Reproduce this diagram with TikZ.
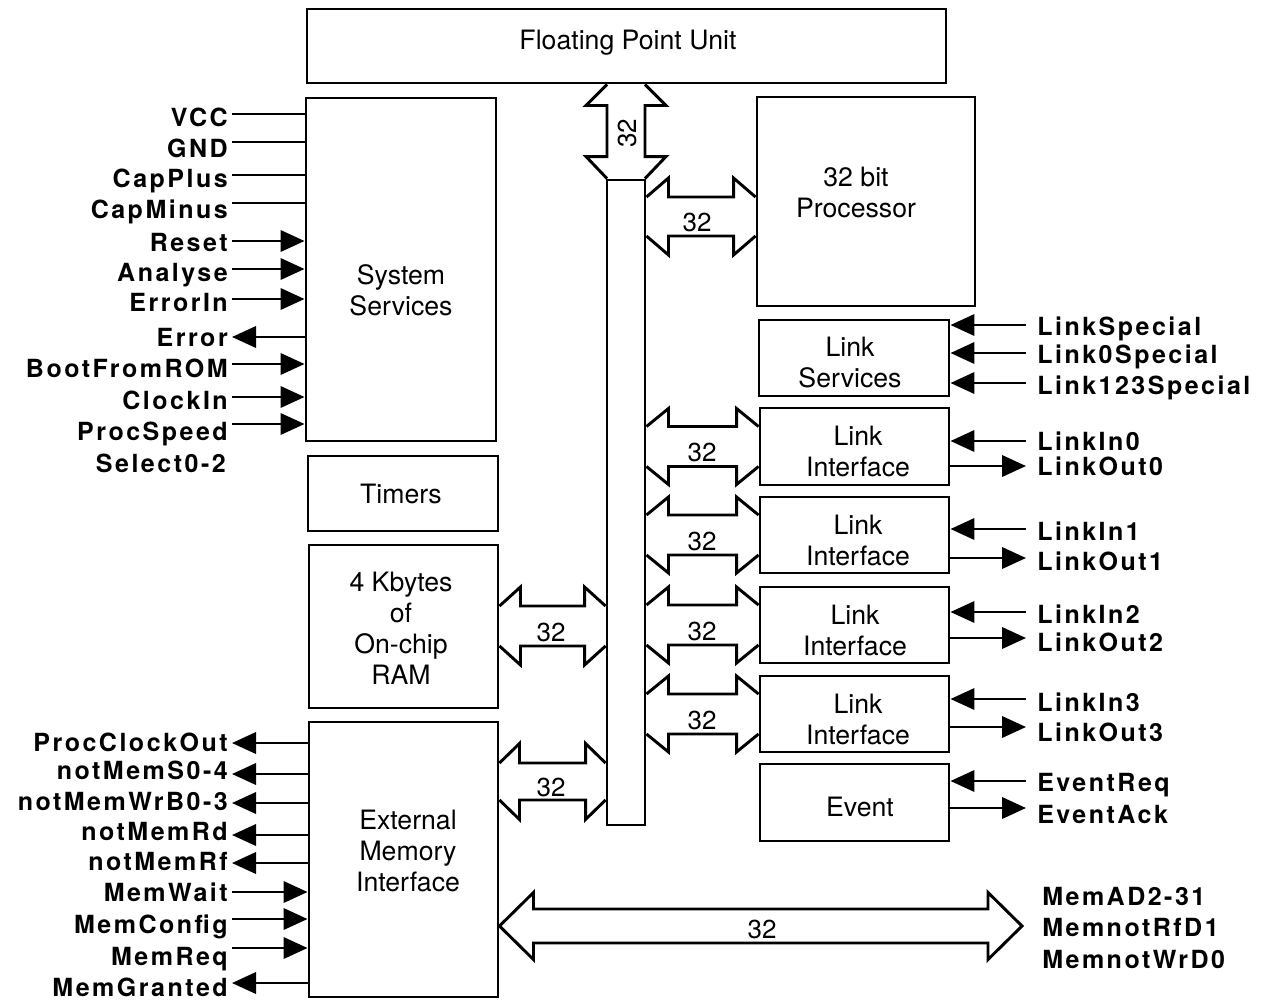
\documentclass[tikz,border=0pt]{standalone}
\usepackage{fontspec}
\setmainfont{TeX Gyre Heros}
\newfontfamily\pinfont{TeX Gyre Heros}[LetterSpace=10]
\usetikzlibrary{arrows.meta,calc,fit}
\tikzset{
  blk/.style={draw, line width=2.2pt, inner sep=0pt},
  boxtext/.style={font=\fontsize{20}{23.25}\selectfont, align=center, inner sep=0pt},
  pinlbl/.style={font=\pinfont\bfseries\fontsize{18.75}{20}\selectfont, inner sep=0pt},
  pinln/.style={line width=2pt},
  tipend/.style={pinln, -{Triangle[length=18pt,width=16pt]}},
  tipstart/.style={pinln, {Triangle[length=18pt,width=16pt]}-},
  busline/.style={line width=2.2pt, line join=miter},
  numlbl/.style={font=\fontsize{19.5}{22}\selectfont, inner sep=0pt},
}
% left pin: id, text, label y, line y, style, box
\newcommand\lpin[6]{%
  \node[pinlbl, anchor=base east] (n#1) at (228,#3+8.5) {#2};
  \coordinate (c#1) at (232,#4);
  \draw[#5] (c#1) -- (c#1 -| #6.west);}
% right pin: id, text, label y, line y, style, box
\newcommand\rpin[6]{%
  \node[pinlbl, anchor=base west] (n#1) at (1037,#3+8.5) {#2};
  \coordinate (c#1) at (1026,#4);
  \draw[#5] (#6.east |- c#1) -- (c#1);}
% horizontal bus arrow: left node, right node, centre y, shaft half, barb half, head length, label x
\newcommand\hbus[7]{%
  \coordinate (A) at (#1.east |- 0,#3);
  \coordinate (B) at (#2.west |- 0,#3);
  \draw[busline] ($(A)+(0,-#4)$) -- ($(A)+(#6,-#5)$) -- ($(A)+(#6,-#4)$) -- ($(B)+(-#6,-#4)$) -- ($(B)+(-#6,-#5)$) -- ($(B)+(0,-#4)$);
  \draw[busline] ($(A)+(0,#4)$) -- ($(A)+(#6,#5)$) -- ($(A)+(#6,#4)$) -- ($(B)+(-#6,#4)$) -- ($(B)+(-#6,#5)$) -- ($(B)+(0,#4)$);
  \node[numlbl] at (#7,#3+6) {32};}
\begin{document}
\begin{tikzpicture}[x=0.75pt,y=-0.75pt]
\useasboundingbox (0,0) rectangle (1266,1003);

% blocks
\node[blk, fit={(307,9) (946,83)}] (fpu) {};
\node[blk, fit={(306,98) (496,441)}] (sys) {};
\node[blk, fit={(308,456) (498,531)}] (tim) {};
\node[blk, fit={(309,545) (498,708)}] (ram) {};
\node[blk, fit={(309,722) (498,997)}] (emi) {};
\node[blk, fit={(607,180) (645,825)}] (bus) {};
\node[blk, fit={(757,97) (975,306)}] (proc) {};
\node[blk, fit={(759,320) (949,396)}] (lserv) {};
\node[blk, fit={(760,408) (949,485)}] (li0) {};
\node[blk, fit={(760,497) (949,573)}] (li1) {};
\node[blk, fit={(760,587) (949,663)}] (li2) {};
\node[blk, fit={(760,676) (949,752)}] (li3) {};
\node[blk, fit={(760,764) (949,841)}] (event) {};

% block texts
\node[boxtext] (tfpu) at (628,43) {Floating Point Unit};
\node[boxtext] (tsys) at (401,290) {System\\Services};
\node[boxtext] (ttim) at (401,494) {Timers};
\node[boxtext] (tram) at (401,628.5) {4 Kbytes\\of\\On-chip\\RAM};
\node[boxtext] (temi) at (408,851) {External\\Memory\\Interface};
\node[boxtext] (tproc) at (856,192.5) {32 bit\\Processor};
\node[boxtext] (tlserv) at (850,362.5) {Link\\Services};
\node[boxtext] (tli0) at (858,451.5) {Link\\Interface};
\node[boxtext] (tli1) at (858,540.5) {Link\\Interface};
\node[boxtext] (tli2) at (855,630) {Link\\Interface};
\node[boxtext] (tli3) at (858,719) {Link\\Interface};
\node[boxtext] (tevent) at (860,807) {Event};

% vertical bus arrow to the FPU
\coordinate (T) at (fpu.south -| bus.north);
\coordinate (U) at (bus.north);
\draw[busline] ($(T)+(-19,0)$) -- ($(T)+(-40,21)$) -- ($(T)+(-19,21)$) -- ($(U)+(-19,-22)$) -- ($(U)+(-40,-22)$) -- ($(U)+(-19,0)$);
\draw[busline] ($(T)+(19,0)$) -- ($(T)+(40,21)$) -- ($(T)+(19,21)$) -- ($(U)+(19,-22)$) -- ($(U)+(40,-22)$) -- ($(U)+(19,0)$);
\node[numlbl, rotate=90] (vnum) at (627,133) {32};

% horizontal bus arrows
\hbus{bus}{proc}{216.5}{19.5}{38.5}{22}{697}
\hbus{bus}{li0}{446.5}{20}{38}{22}{702}
\hbus{bus}{li1}{535}{20}{38}{22}{702}
\hbus{bus}{li2}{625}{20}{38}{22}{702}
\hbus{bus}{li3}{714}{20}{38}{22}{702}
\hbus{ram}{bus}{626}{20}{39}{21}{551}
\hbus{emi}{bus}{781.5}{18.5}{38}{20}{551}

% external memory bus
\coordinate (M) at (emi.east |- 0,926);
\coordinate (Mend) at (1022,926);
\draw[busline] (M) -- ($(M)+(34,-33.5)$) -- ($(M)+(34,-17)$) -- ($(Mend)+(-34,-17)$) -- ($(Mend)+(-34,-33.5)$) -- (Mend) -- ($(Mend)+(-34,33.5)$) -- ($(Mend)+(-34,17)$) -- ($(M)+(34,17)$) -- ($(M)+(34,33.5)$) -- cycle;
\node[numlbl] (mnum) at (762,929) {32};

% system services pins
\lpin{VCC}{VCC}{118}{114}{pinln}{sys}
\lpin{GND}{GND}{149}{142}{pinln}{sys}
\lpin{CapPlus}{CapPlus}{179}{175}{pinln}{sys}
\lpin{CapMinus}{CapMinus}{210}{203}{pinln}{sys}
\lpin{Reset}{Reset}{243}{241}{tipend}{sys}
\lpin{Analyse}{Analyse}{273}{269}{tipend}{sys}
\lpin{ErrorIn}{ErrorIn}{303}{299}{tipend}{sys}
\lpin{Error}{Error}{338}{337}{tipstart}{sys}
\lpin{Boot}{BootFromROM}{369}{364}{tipend}{sys}
\lpin{ClockIn}{ClockIn}{401}{397}{tipend}{sys}
\lpin{ProcSpeed}{ProcSpeed}{432}{424}{tipend}{sys}
\node[pinlbl, anchor=base east] (nSelect) at (226,464+8.5) {Select0-2};

% external memory interface pins
\lpin{PCO}{ProcClockOut}{743}{743}{tipstart}{emi}
\lpin{MS}{notMemS0-4}{771}{774}{tipstart}{emi}
\lpin{MWrB}{notMemWrB0-3}{802}{803}{tipstart}{emi}
\lpin{MRd}{notMemRd}{832}{835}{tipstart}{emi}
\lpin{MRf}{notMemRf}{862}{863}{tipstart}{emi}
\lpin{MWait}{MemWait}{893}{892}{tipend}{emi}
\lpin{MConfig}{MemConfig}{925}{919}{tipend}{emi}
\lpin{MReq}{MemReq}{957}{948}{tipend}{emi}
\lpin{MGranted}{MemGranted}{988}{983}{tipstart}{emi}

% link pins
\rpin{LS}{LinkSpecial}{327}{325}{tipstart}{lserv}
\rpin{LSz}{Link0Special}{355}{353}{tipstart}{lserv}
\rpin{LSo}{Link123Special}{386}{383}{tipstart}{lserv}
\rpin{LIa}{LinkIn0}{442}{441}{tipstart}{li0}
\rpin{LOa}{LinkOut0}{467}{466}{tipend}{li0}
\rpin{LIb}{LinkIn1}{532}{529}{tipstart}{li1}
\rpin{LOb}{LinkOut1}{562}{558}{tipend}{li1}
\rpin{LIc}{LinkIn2}{615}{612}{tipstart}{li2}
\rpin{LOc}{LinkOut2}{643}{638}{tipend}{li2}
\rpin{LId}{LinkIn3}{703}{699}{tipstart}{li3}
\rpin{LOd}{LinkOut3}{733}{727}{tipend}{li3}
\rpin{ER}{EventReq}{783}{781}{tipstart}{event}
\rpin{EA}{EventAck}{815}{808}{tipend}{event}

% memory bus labels
\node[pinlbl, anchor=base west] (nMAD) at (1042,897+8.5) {MemAD2-31};
\node[pinlbl, anchor=base west] (nMRfD) at (1042,928+8.5) {MemnotRfD1};
\node[pinlbl, anchor=base west] (nMWrD) at (1042,960+8.5) {MemnotWrD0};
\end{tikzpicture}
\end{document}
